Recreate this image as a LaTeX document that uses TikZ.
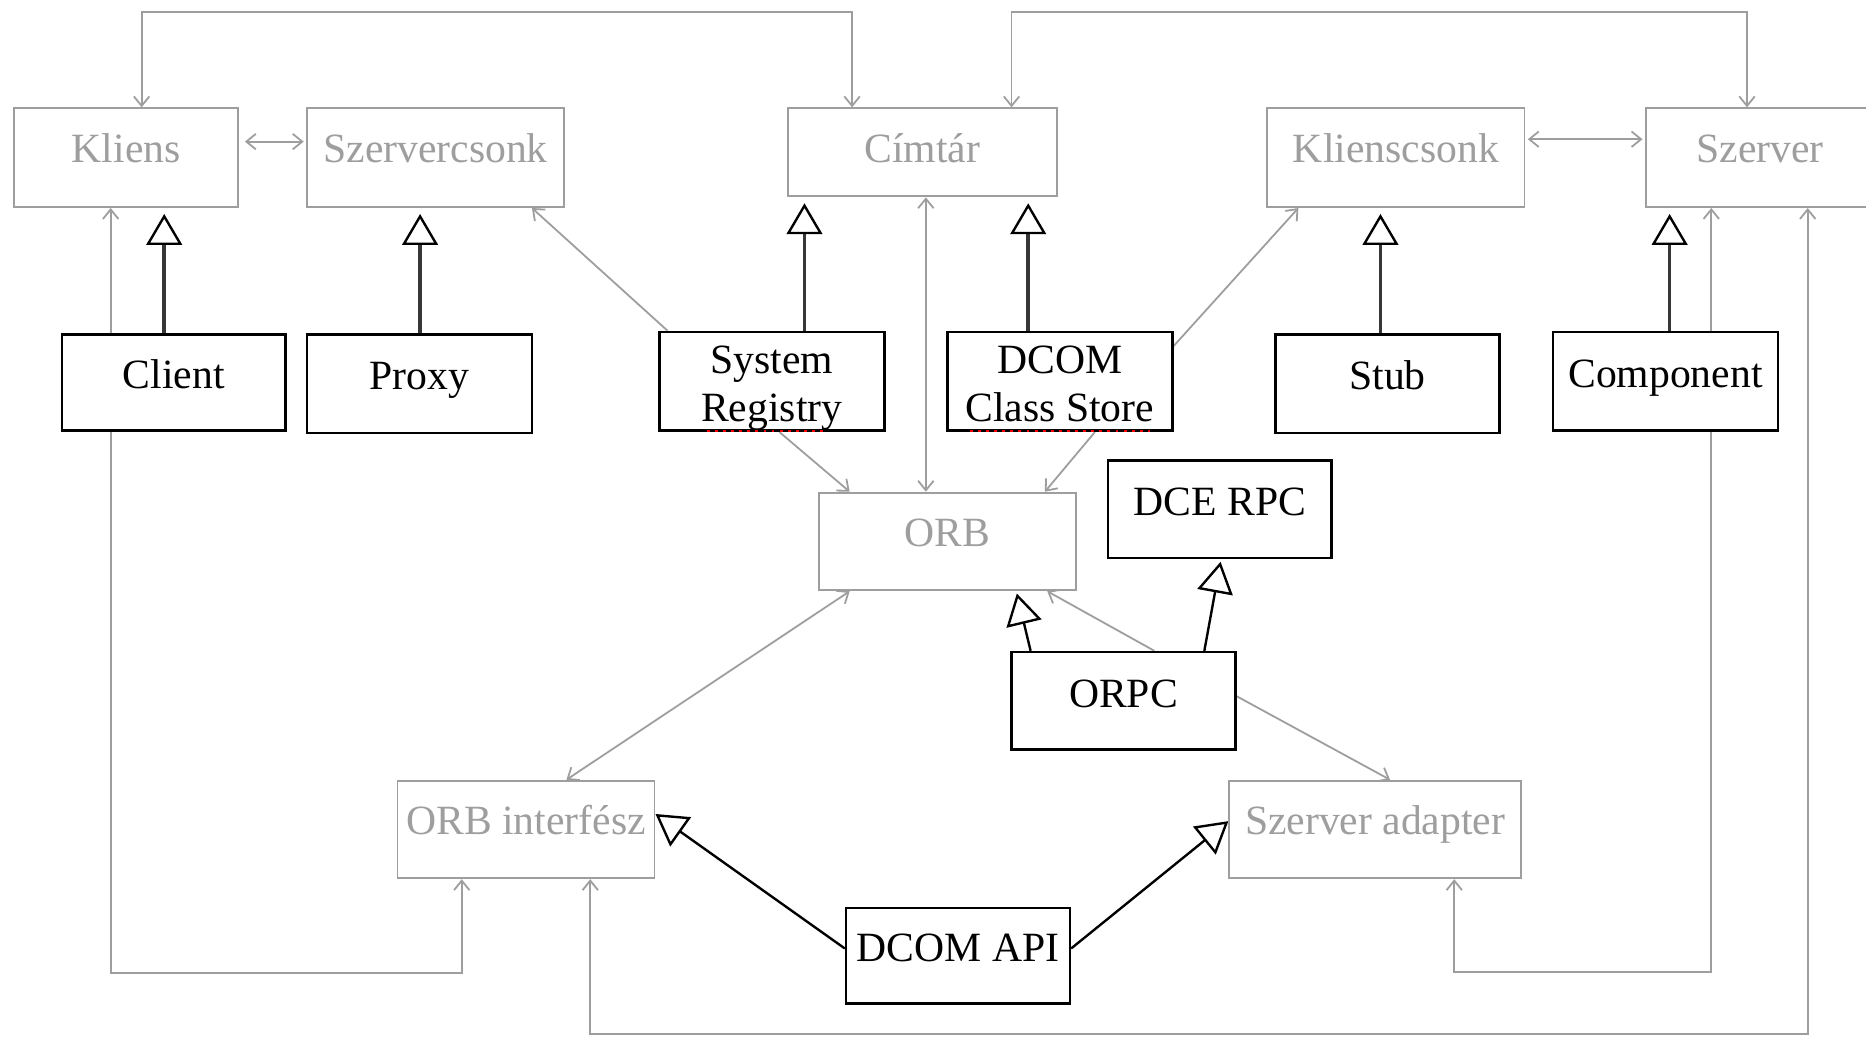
\documentclass[tikz,border=0pt]{standalone}
\usepackage{fontspec}
\setmainfont{Liberation Serif}
\usetikzlibrary{arrows.meta,calc,backgrounds}
\definecolor{gcol}{RGB}{158,158,158}
\definecolor{shaft}{RGB}{55,55,55}
\tikzset{
  gv/.tip={Straight Barb[length=4pt,width=6.5pt,line width=0.75pt]},
  ihtip/.tip={Triangle[open,fill=white,length=13pt,width=15pt,line width=1pt,color=black]}
}
\begin{document}
\begin{tikzpicture}[x=0.5pt,y=-0.5pt,
  every node/.style={font=\fontsize{17.5}{21}\selectfont, inner sep=0pt},
  gbox/.style={draw=gcol, line width=0.8pt, text=gcol, fill=white, text height=12pt, text depth=7.8pt},
  bbox/.style={draw=black, line width=1.1pt, fill=white, text height=12pt, text depth=6.9pt},
  gline/.style={draw=gcol, line width=0.75pt},
  inh/.style={draw=shaft, line width=1.5pt, -ihtip, shorten >=2.5pt},
  inhs/.style={draw=black, line width=1pt, -ihtip}]
\useasboundingbox (0,0) rectangle (1568,871);

% gray concept boxes
\node[gbox, minimum width=94pt,  minimum height=41.5pt] (kliens)  at (106,132.5) {Kliens};
\node[gbox, minimum width=108pt, minimum height=41.5pt] (szcs)    at (366,132.5) {Szervercsonk};
\node[gbox, minimum width=113pt, minimum height=37pt, text depth=3.6pt] (cimtar) at (775,128) {Címtár};
\node[gbox, minimum width=108pt, minimum height=41.5pt] (klcs)    at (1173,132.5) {Klienscsonk};
\node[gbox, minimum width=96pt,  minimum height=41.5pt] (szerver) at (1479,132.5) {Szerver};
\node[gbox, minimum width=108pt, minimum height=41pt]   (orb)     at (796,455) {ORB};
\node[gbox, minimum width=108pt, minimum height=41pt]   (orbif)   at (442,697) {ORB interfész};
\node[gbox, minimum width=122.5pt, minimum height=41pt] (szad)    at (1155.5,697) {Szerver adapter};

% black DCOM boxes
\node[bbox, minimum width=94pt,   minimum height=40.5pt] (client)  at (146,321.5) {Client};
\node[bbox, minimum width=94.5pt, minimum height=41.5pt] (proxy)   at (352.5,322.5) {Proxy};
\node[bbox, minimum width=94.5pt, minimum height=41.5pt] (sysreg)  at (648.5,320.5) {};
\node[bbox, minimum width=94.5pt, minimum height=41.5pt] (dcs)     at (890.5,320.5) {};
\node[bbox, minimum width=94pt,   minimum height=41.5pt] (stub)    at (1166,322.5) {Stub};
\node[bbox, minimum width=94.5pt, minimum height=41.5pt] (comp)    at (1399.5,320.5) {Component};
\node[bbox, minimum width=94pt,   minimum height=41pt]   (dcerpc)  at (1025,428) {DCE RPC};
\node[bbox, minimum width=94pt,   minimum height=41pt]   (orpc)    at (944,589) {ORPC};
\node[bbox, minimum width=94pt,   minimum height=40pt]   (dcomapi) at (805,803) {DCOM API};

% two-line labels
\node[anchor=base] (sysreg1) at (648.5,313.6) {System};
\node[anchor=base] (sysreg2) at (648.5,354.6) {Registry};
\node[anchor=base] (dcs1)    at (890.5,313.6) {DCOM};
\node[anchor=base] (dcs2)    at (890.5,354.6) {Class Store};
\draw[red, line width=0.9pt, dash pattern=on 1.2pt off 2.2pt] (594,362) -- (695,362);
\draw[red, line width=0.9pt, dash pattern=on 1.2pt off 2.2pt] (815,362) -- (966,362);

\begin{scope}[on background layer]
\fill[white] (0,0) rectangle (1568,871);
% gray associations
\draw[gline, gv-gv] ($(kliens.north)+(13,0)$) -- ++(0,-80) -| ($(cimtar.north)+(-59,0)$);
\draw[gline, gv-gv] ($(cimtar.north)+(75,0)$) -- ++(0,-80) -| ($(szerver.north)+(-11,0)$);
\draw[gline, gv-gv, shorten <=2.5pt, shorten >=1pt] ($(kliens.east)+(0,-13.5)$) -- ($(szcs.west)+(0,-13.5)$);
\draw[gline, gv-gv, shorten <=1pt, shorten >=1pt] ($(klcs.east)+(0,-15.5)$) -- ($(szerver.west)+(0,-15.5)$);
\draw[gline, -gv] ($(sysreg.north west)+(8,0)$) -- ($(szcs.south)+(81,0)$);
\draw[gline, -gv] ($(dcs.north east)+(0,13)$) -- ($(klcs.south)+(-82,0)$);
\draw[gline, -gv] ($(sysreg.south)+(6.5,0)$) -- ($(orb.north)+(-82,0)$);
\draw[gline, -gv] ($(dcs.south)+(29.5,0)$) -- ($(orb.north)+(82,0)$);
\draw[gline, gv-gv] ($(orb.north)+(-18,0)$) -- ($(cimtar.south)+(3,0)$);
\draw[gline, gv-gv] ($(orb.south)+(-82,0)$) -- ($(orbif.north)+(34,0)$);
\draw[gline, -gv] ($(orpc.north)+(26,0)$) -- ($(orb.south)+(84,0)$);
\draw[gline, -gv] ($(orpc.east)+(0,-4)$) -- ($(szad.north)+(12.5,0)$);
\draw[gline, gv-gv] ($(kliens.south)+(-13,0)$) -- ++(0,643) -| ($(orbif.south)+(-54,0)$);
\draw[gline, gv-gv] ($(szerver.south)+(40,0)$) -- ++(0,694) -| ($(orbif.south)+(54,0)$);
\draw[gline, gv-gv] ($(szerver.south)+(-41,0)$) -- ++(0,642) -| ($(szad.south)+(66.5,0)$);
% generalizations
\draw[inh] ($(client.north)+(-8,0)$) -- ($(kliens.south)+(32,0)$);
\draw[inh] ($(proxy.north)+(0.5,0)$) -- ($(szcs.south)+(-13,0)$);
\draw[inh] ($(sysreg.north)+(27.5,0)$) -- ($(cimtar.south)+(-99,0)$);
\draw[inh] ($(dcs.north)+(-26.5,0)$) -- ($(cimtar.south)+(89,0)$);
\draw[inh] ($(stub.north)+(-6,0)$) -- ($(klcs.south)+(-13,0)$);
\draw[inh] ($(comp.north)+(3.5,0)$) -- ($(szerver.south)+(-76,0)$);
\draw[inhs, shorten >=1pt] ($(orpc.north)+(-78,0)$) -- ($(orb.south)+(58,0)$);
\draw[inhs, shorten >=1pt] ($(orpc.north)+(68,0)$) -- ($(dcerpc.south)+(1,0)$);
\draw[inhs] ($(dcomapi.west)+(0,-6)$) -- ($(orbif.east)+(0,-13)$);
\draw[inhs] ($(dcomapi.east)+(0,-6)$) -- ($(szad.west)+(0,-7)$);
\end{scope}
\end{tikzpicture}
\end{document}
